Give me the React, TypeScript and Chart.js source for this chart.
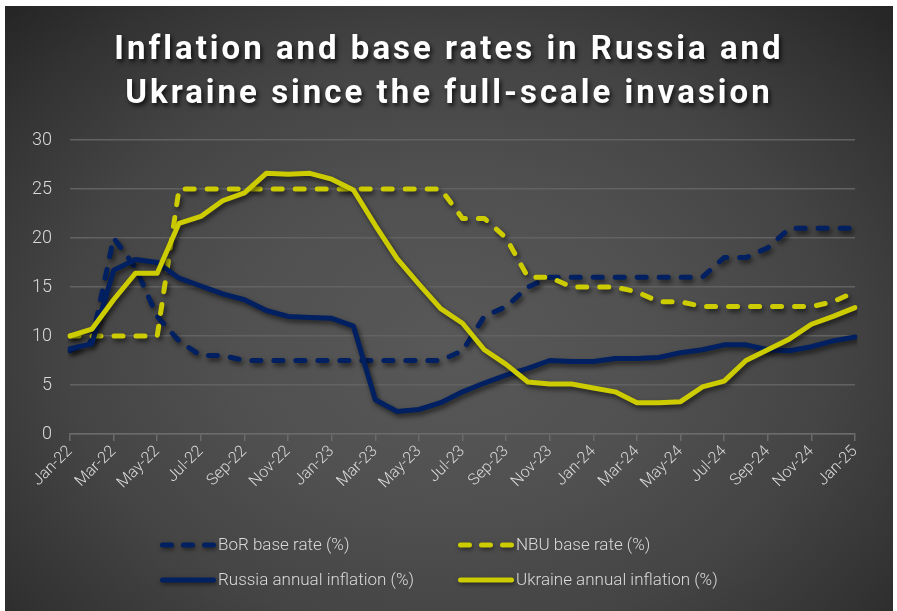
import React, { useEffect, useRef } from 'react';
import { Chart, registerables } from 'chart.js';

Chart.register(...registerables);

const months = [
  'Jan-22', 'Feb-22', 'Mar-22', 'Apr-22', 'May-22', 'Jun-22', 'Jul-22', 'Aug-22', 'Sep-22', 'Oct-22', 'Nov-22', 'Dec-22',
  'Jan-23', 'Feb-23', 'Mar-23', 'Apr-23', 'May-23', 'Jun-23', 'Jul-23', 'Aug-23', 'Sep-23', 'Oct-23', 'Nov-23', 'Dec-23',
  'Jan-24', 'Feb-24', 'Mar-24', 'Apr-24', 'May-24', 'Jun-24', 'Jul-24', 'Aug-24', 'Sep-24', 'Oct-24', 'Nov-24', 'Dec-24',
  'Jan-25',
];

const borRate = [
  8.5, 9.5, 20, 17, 12, 9.5, 8, 8, 7.5, 7.5, 7.5, 7.5,
  7.5, 7.5, 7.5, 7.5, 7.5, 7.5, 8.5, 12, 13, 15, 16, 16,
  16, 16, 16, 16, 16, 16, 18, 18, 19, 21, 21, 21,
  21,
];

const nbuRate = [
  10, 10, 10, 10, 10, 25, 25, 25, 25, 25, 25, 25,
  25, 25, 25, 25, 25, 25, 22, 22, 20, 16, 16, 15,
  15, 15, 14.5, 13.5, 13.5, 13, 13, 13, 13, 13, 13, 13.5,
  14.5,
];

const russiaInflation = [
  8.7, 9.2, 16.7, 17.8, 17.5, 15.9, 15.1, 14.3, 13.7, 12.6, 12.0, 11.9,
  11.8, 11.0, 3.5, 2.3, 2.5, 3.2, 4.3, 5.2, 6.0, 6.7, 7.5, 7.4,
  7.4, 7.7, 7.7, 7.8, 8.3, 8.6, 9.1, 9.1, 8.6, 8.5, 8.9, 9.5,
  9.9,
];

const ukraineInflation = [
  10.0, 10.7, 13.7, 16.4, 16.4, 21.5, 22.2, 23.8, 24.6, 26.6, 26.5, 26.6,
  26.0, 24.9, 21.3, 17.9, 15.3, 12.8, 11.3, 8.6, 7.1, 5.3, 5.1, 5.1,
  4.7, 4.3, 3.2, 3.2, 3.3, 4.8, 5.4, 7.5, 8.6, 9.7, 11.2, 12.0,
  12.9,
];

const seriesLabels = [
  'BoR base rate (%)',
  'NBU base rate (%)',
  'Russia annual inflation (%)',
  'Ukraine annual inflation (%)',
];

const yTicks = [0, 5, 10, 15, 20, 25, 30];

const BLUE = '#002062';
const YELLOW = '#cccc00';
const W = 888;
const H = 605;

export default function App() {
  const ref = useRef<HTMLCanvasElement | null>(null);

  useEffect(() => {
    if (!ref.current) return;

    const shadowPlugin = {
      id: 'lineShadow',
      beforeDatasetsDraw(chart: any) {
        const c = chart.ctx;
        c.save();
        c.shadowColor = 'rgba(0,0,0,0.6)';
        c.shadowBlur = 5;
        c.shadowOffsetX = 2;
        c.shadowOffsetY = 3;
      },
      afterDatasetsDraw(chart: any) {
        chart.ctx.restore();
      },
    };

    const legendPlugin = {
      id: 'gridLegend',
      afterDraw(chart: any) {
        const c = chart.ctx;
        const cols = [155, 453];
        const rows = [539, 574];
        chart.data.datasets.forEach((ds: any, i: number) => {
          const x = cols[i % 2];
          const y = rows[Math.floor(i / 2)];
          c.save();
          c.shadowColor = 'rgba(0,0,0,0.5)';
          c.shadowBlur = 4;
          c.shadowOffsetX = 1;
          c.shadowOffsetY = 2;
          c.strokeStyle = ds.borderColor;
          c.lineWidth = 5;
          c.lineCap = 'round';
          c.beginPath();
          if (ds.borderDash && ds.borderDash.length) {
            for (let k = 0; k < 3; k++) {
              c.moveTo(x + 2.5 + k * 21, y);
              c.lineTo(x + 2.5 + k * 21 + 9, y);
            }
          } else {
            c.moveTo(x + 2.5, y);
            c.lineTo(x + 53.5, y);
          }
          c.stroke();
          c.restore();
          c.save();
          c.fillStyle = '#d9d9d9';
          c.font = '300 17px Roboto';
          c.textBaseline = 'middle';
          c.textAlign = 'left';
          c.fillText(ds.label, x + 58, y + 1);
          c.restore();
        });
      },
    };

    const chart = new Chart(ref.current, {
      type: 'line',
      data: {
        labels: months,
        datasets: [
          { label: seriesLabels[0], data: borRate, borderColor: BLUE, borderDash: [9, 13], order: 4 },
          { label: seriesLabels[1], data: nbuRate, borderColor: YELLOW, borderDash: [9, 13], order: 3 },
          { label: seriesLabels[2], data: russiaInflation, borderColor: BLUE, order: 2 },
          { label: seriesLabels[3], data: ukraineInflation, borderColor: YELLOW, order: 1 },
        ],
      },
      options: {
        animation: false,
        responsive: false,
        layout: { padding: { top: 134, left: 5, right: 38, bottom: 117 } },
        plugins: {
          legend: { display: false },
          title: { display: false },
          tooltip: { enabled: false },
        },
        elements: {
          point: { radius: 0, hoverRadius: 0 },
          line: { tension: 0, borderWidth: 5, borderCapStyle: 'round', borderJoinStyle: 'round', fill: false },
        },
        scales: {
          x: {
            type: 'category',
            offset: false,
            grid: { drawOnChartArea: false, drawTicks: true, tickLength: 7, color: '#6b6b6b', lineWidth: 1.5 },
            border: { color: '#6b6b6b', width: 1.5 },
            ticks: {
              autoSkip: false,
              maxRotation: 45,
              minRotation: 45,
              color: '#d9d9d9',
              font: { family: 'Roboto', size: 16, weight: '300' },
              padding: 1,
              callback: (_v: any, i: number) => (i % 2 === 0 ? months[i] : null),
            },
            afterFit: (s: any) => { s.height = 60; },
          },
          y: {
            min: yTicks[0],
            max: yTicks[yTicks.length - 1],
            ticks: {
              stepSize: yTicks[1] - yTicks[0],
              color: '#d9d9d9',
              font: { family: 'Roboto', size: 18, weight: '300' },
              padding: 18,
            },
            grid: { color: '#626262', lineWidth: 1.5, drawTicks: false },
            border: { display: false },
            afterFit: (s: any) => { s.width = 60; },
          },
        },
      },
      plugins: [shadowPlugin, legendPlugin],
    } as any);

    return () => chart.destroy();
  }, []);

  return (
    <div
      style={{
        position: 'absolute',
        left: 5,
        top: 6,
        width: W,
        height: H,
        overflow: 'hidden',
        background:
          'radial-gradient(ellipse 70% 78% at 50% 56%, #585858 0%, #505050 35%, #444444 62%, #333333 85%, #262626 100%)',
      }}
    >
      <canvas ref={ref} width={W} height={H} style={{ position: 'absolute', left: 0, top: 0 }} />
      <div
        style={{
          position: 'absolute',
          left: 0,
          right: 0,
          top: 20,
          textAlign: 'center',
          fontFamily: 'Roboto, sans-serif',
          fontWeight: 700,
          fontSize: 33,
          letterSpacing: 3,
          lineHeight: '44px',
          color: '#ffffff',
          textShadow: '2px 3px 4px rgba(0,0,0,0.75)',
          pointerEvents: 'none',
        }}
      >
        <div>Inflation and base rates in Russia and</div>
        <div>Ukraine since the full-scale invasion</div>
      </div>
    </div>
  );
}
